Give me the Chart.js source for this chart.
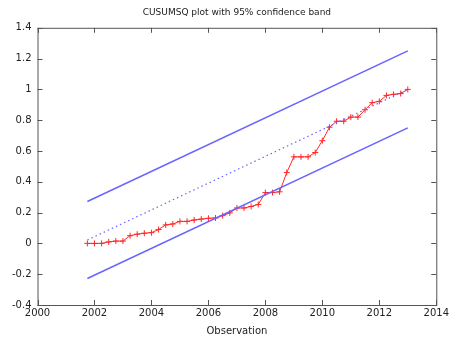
<!DOCTYPE html>
<html>
<head>
<meta charset="utf-8">
<script src="https://cdn.jsdelivr.net/npm/chart.js@4"></script>
<style>
  html, body { margin: 0; padding: 0; background: #fff; }
  canvas { display: block; }
</style>
</head>
<body>
<canvas id="c" width="451" height="337"></canvas>
<script>
// quarterly observations, 2001Q4 .. 2013Q1 (decimal years)
const startYear = 2001.75;
const cusumsq = [0.0, 0.0, 0.0, 0.01, 0.015, 0.015, 0.05, 0.06, 0.066, 0.07,
  0.09, 0.12, 0.126, 0.143, 0.143, 0.152, 0.158, 0.163, 0.165, 0.18,
  0.198, 0.23, 0.23, 0.24, 0.253, 0.33, 0.33, 0.335, 0.46, 0.562,
  0.562, 0.562, 0.59, 0.667, 0.754, 0.793, 0.793, 0.82, 0.82, 0.868,
  0.914, 0.922, 0.961, 0.968, 0.973, 1.0];
const bandYears = [2001.75, 2013];
const expected = [0.022, 1.0];
const upperBand = [0.272, 1.25];
const lowerBand = [-0.228, 0.75];
const xTicks = [2000, 2002, 2004, 2006, 2008, 2010, 2012, 2014];
const yTicks = [-0.4, -0.2, 0, 0.2, 0.4, 0.6, 0.8, 1, 1.2, 1.4];

const obsPoints = cusumsq.map((v, i) => ({ x: startYear + i * 0.25, y: v }));
const pts = arr => arr.map((v, i) => ({ x: bandYears[i], y: v }));

const blue = 'rgb(105,100,255)';
const FONT = 'DejaVu Sans';

// gnuplot style: box round the plot and inward ticks on all sides
const boxTicks = {
  id: 'boxTicks',
  afterDraw(chart) {
    const { ctx, chartArea: a, scales } = chart;
    ctx.save();
    ctx.strokeStyle = '#555';
    ctx.lineWidth = 1;
    ctx.strokeRect(a.left + 0.5, a.top + 0.5, a.right - a.left, a.bottom - a.top);
    ctx.beginPath();
    xTicks.forEach(t => {
      const px = Math.round(scales.x.getPixelForValue(t)) + 0.5;
      ctx.moveTo(px, a.bottom); ctx.lineTo(px, a.bottom - 5);
      ctx.moveTo(px, a.top); ctx.lineTo(px, a.top + 5);
    });
    yTicks.forEach(t => {
      const py = Math.round(scales.y.getPixelForValue(t)) + 0.5;
      ctx.moveTo(a.left, py); ctx.lineTo(a.left + 5, py);
      ctx.moveTo(a.right, py); ctx.lineTo(a.right - 5, py);
    });
    ctx.stroke();
    ctx.restore();
  }
};

new Chart(document.getElementById('c'), {
  type: 'scatter',
  data: {
    datasets: [
      { data: pts(upperBand), showLine: true, borderColor: blue, borderWidth: 1.5, pointRadius: 0 },
      { data: pts(lowerBand), showLine: true, borderColor: blue, borderWidth: 1.5, pointRadius: 0 },
      { data: pts(expected), showLine: true, borderColor: blue, borderWidth: 1.2, borderDash: [1.5, 3], pointRadius: 0 },
      { data: obsPoints, showLine: true, borderColor: 'rgb(255,40,40)', borderWidth: 1,
        pointStyle: 'cross', pointRadius: 3, pointBorderColor: 'rgb(255,40,40)', pointBorderWidth: 1 }
    ]
  },
  options: {
    responsive: false,
    animation: false,
    layout: { padding: { left: 6, right: 8, top: 4, bottom: 0 } },
    plugins: {
      legend: { display: false },
      tooltip: { enabled: false },
      title: {
        display: true, fullSize: false, text: 'CUSUMSQ plot with 95% confidence band',
        color: '#222', font: { family: FONT, size: 9, weight: 'normal' },
        padding: { top: 3, bottom: 10 }
      }
    },
    scales: {
      x: {
        type: 'linear', min: 2000, max: 2014,
        afterBuildTicks: s => { s.ticks = xTicks.map(v => ({ value: v })); },
        ticks: { color: '#222', font: { family: FONT, size: 10 }, padding: 2, maxRotation: 0,
          callback: v => String(v) },
        grid: { display: false, drawTicks: false },
        border: { display: false },
        title: { display: true, text: 'Observation', color: '#222',
          font: { family: FONT, size: 10 }, padding: { top: 4, bottom: 0 } }
      },
      y: {
        min: -0.4, max: 1.4,
        afterBuildTicks: s => { s.ticks = yTicks.map(v => ({ value: v })); },
        ticks: { color: '#222', font: { family: FONT, size: 10 }, padding: 6,
          callback: v => String(Math.round(v * 10) / 10) },
        grid: { display: false, drawTicks: false },
        border: { display: false }
      }
    }
  },
  plugins: [boxTicks]
});
</script>
</body>
</html>
